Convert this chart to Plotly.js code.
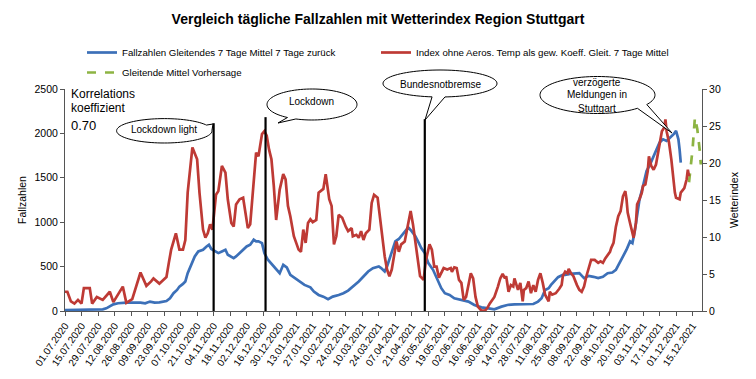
<!DOCTYPE html>
<html><head><meta charset="utf-8">
<script src="https://cdn.plot.ly/plotly-3.0.1.min.js"></script>
<style>html,body{margin:0;padding:0;background:#fff}#chart{width:756px;height:379px}</style>
</head><body><div id="chart"></div>
<script>
// days counted from 01.07.2020
const redDays = [0,2,5,8,11,14,16,21,23,27,
32,38,41,47,49,52,57,64,69,73,
75,80,86,88,90,94,97,100,102,104,
108,112,114,117,119,121,123,125,128,130,
133,136,138,141,143,145,148,151,152,155,
157,160,162,164,167,169,171,173,175,177,
179,182,185,187,189,191,194,196,198,200,
202,204,206,208,210,213,215,219,221,224,
226,228,230,232,235,238,240,243,244,247,
249,251,253,255,258,260,262,265,267,269,
271,273,275,277,279,281,283,285,288,291,
293,295,297,299,301,304,306,309,311,313,
315,317,319,321,324,327,328,330,332,334,
336,338,340,342,344,346,348,350,353,356,
358,360,362,364,367,369,371,373,374,376,
378,380,381,384,386,388,389,391,393,395,
397,399,401,403,405,407,410,411,413,416,
419,421,422,424,426,427,429,431,434,436,
438,440,442,444,446,449,452,454,456,458,
460,462,463,465,466,467,469,471,473,475,
476,477,479,481,482,484,485,487,489,490,
492,494,495,497,499,501,503,504,506,508,
509,510,512,514,516,517,518,521,522,524,
525,527,528,529];
const redIndex = [2.6,2.6,1.3,1.0,1.5,1.0,3.1,3.1,1.0,1.9,
1.5,2.6,1.2,2.85,3.3,1.1,1.6,5.2,3.4,4.0,
4.4,3.7,4.6,6.5,8.3,10.5,8.3,8.3,9.6,16.0,
22.1,20.5,16.0,11.0,9.9,10.5,11.7,11.0,15.7,16.2,
19.6,18.7,15.1,11.9,11.4,14.4,15.1,15.3,14.2,11.2,
11.7,16.9,21.4,20.9,23.9,24.3,23.7,21.8,20.5,16.9,
12.3,16.4,18.5,17.8,14.2,12.8,10.1,9.2,8.3,8.0,
11.0,9.2,11.9,12.4,12.0,12.3,16.0,16.5,18.5,15.1,
14.2,9.0,10.1,13.0,12.6,11.4,10.8,11.2,10.1,10.3,
9.9,10.8,9.6,10.5,11.0,14.6,15.7,15.3,12.8,9.6,
7.4,5.6,4.7,5.6,7.4,9.4,8.0,9.0,9.4,11.9,
13.5,11.7,9.2,6.7,4.7,4.2,6.9,9.0,8.3,6.0,
6.0,4.5,5.1,5.8,5.6,5.8,5.3,5.9,5.8,4.2,
3.8,1.5,1.9,3.8,5.1,4.4,1.9,0.6,0.05,0.05,
0.4,1.0,1.5,1.9,3.3,4.4,5.0,4.4,4.7,2.6,
3.5,3.3,4.4,2.85,3.8,1.3,2.85,3.1,4.0,2.4,
3.5,2.6,4.2,5.1,3.8,2.2,1.3,2.6,2.2,2.4,
3.0,3.5,4.7,5.3,5.1,5.7,5.1,4.7,3.5,2.85,
2.6,3.3,4.7,6.0,6.9,6.9,6.5,6.7,6.5,7.1,
7.6,8.0,8.5,9.2,10.3,11.4,12.8,13.5,15.5,16.2,
15.1,13.3,11.9,10.5,9.9,11.9,14.4,15.1,16.0,16.9,
17.1,18.9,20.9,19.6,19.1,19.8,21.6,23.0,24.3,24.8,
25.9,24.3,22.8,20.5,17.3,16.0,15.3,15.1,16.0,16.4,
16.6,17.8,19.1,18.2];
const blueDays = [0,24,32,35,38,41,45,52,64,68,
72,76,80,86,89,92,95,97,100,102,
104,107,110,113,117,120,122,124,127,130,
133,136,138,143,145,148,151,154,157,160,
162,164,167,169,172,176,179,182,185,188,
191,195,199,203,208,211,215,219,223,227,
232,236,240,244,249,253,257,261,266,268,
271,273,275,278,280,283,285,288,291,294,
297,300,302,305,308,312,316,319,322,326,
330,336,342,347,353,359,364,370,375,381,
387,392,397,401,404,407,410,412,415,418,
422,424,428,432,436,440,444,448,452,456,
460,464,467,470,473,476,479,481,483,485,
487,490,493,496,499,501,504,507,510,513,
516,518,520,521,522];
const blueCases = [11,11,19,30,49,75,87,94,94,87,
106,94,98,113,143,200,237,275,305,332,
426,530,614,671,690,727,746,698,671,652,
671,690,633,596,614,652,690,727,746,803,
784,784,765,652,577,520,471,426,520,490,
407,370,332,294,266,219,181,162,132,162,
181,200,230,275,332,388,445,483,502,483,
445,502,577,690,784,811,841,897,942,897,
841,765,709,652,539,464,350,257,200,181,
143,124,106,68,41,30,19,49,68,75,
79,79,79,106,143,237,257,294,332,381,
407,407,418,426,426,370,396,385,370,385,
426,434,464,539,614,690,784,765,897,1086,
1255,1406,1576,1651,1745,1821,1897,1934,1915,1953,
1991,2028,1934,1821,1670];
const greenDays = [529,532,534,536,538,539];
const greenCases = [1450,1820,2180,2050,1820,1650];
const eventDates = ['2020-11-04','2020-12-18','2021-05-02'];
const eventTops = [2115,2183,2160];
const leftTicks = [0,500,1000,1500,2000,2500];
const rightTicks = [0,5,10,15,20,25,30];

const FONT = "'Liberation Sans Narrow', 'Liberation Sans', Arial, sans-serif";
function dayToDate(d){ return new Date(Date.UTC(2020,6,1) + d*86400000).toISOString().slice(0,10); }

// pixel -> paper helpers (plot area: x 65..702, y 89..311)
const PL=65, PR=702, PT=89, PB=311;
const px = p => (p-PL)/(PR-PL);
const py = p => (PB-p)/(PB-PT);

function calloutPath(cx, cy, rx, ry, a1, a2, tx, ty){
  const pts=[];
  const end = a1 + 360;
  for(let a=a2; a<end; a+=4){ pts.push([cx+rx*Math.cos(a*Math.PI/180), cy+ry*Math.sin(a*Math.PI/180)]); }
  pts.push([cx+rx*Math.cos(a1*Math.PI/180), cy+ry*Math.sin(a1*Math.PI/180)]);
  pts.push([tx,ty]);
  return 'M ' + pts.map(p=>px(p[0]).toFixed(5)+','+py(p[1]).toFixed(5)).join(' L ') + ' Z';
}

const traces = [
  {x: blueDays.map(dayToDate), y: blueCases, type:'scatter', mode:'lines', name:'Fallzahlen Gleitendes 7 Tage Mittel 7 Tage zurück',
   line:{color:'#3C70B8', width:2.7}, yaxis:'y', legend:'legend'},
  {x: redDays.map(dayToDate), y: redIndex, type:'scatter', mode:'lines', name:'Index ohne Aeros. Temp als gew. Koeff. Gleit. 7 Tage Mittel',
   line:{color:'#BE3A35', width:2.7}, yaxis:'y2', legend:'legend2'},
  {x: greenDays.map(dayToDate), y: greenCases, type:'scatter', mode:'lines', name:'Gleitende Mittel Vorhersage',
   line:{color:'#8DB443', width:2.7, dash:'dash'}, yaxis:'y', legend:'legend3'}
];

const shapes = [];
eventDates.forEach((d,i)=>{
  shapes.push({type:'line', xref:'x', yref:'y', x0:d, x1:d, y0:0, y1:eventTops[i], line:{color:'#000', width:2.2}, layer:'above'});
});
const callouts = [
  [164.3,130.8,47.7,12.2,-28,-2,213,124],
  [312,104.5,45,15.5,111,123,278,123],
  [440,83.5,57,13.5,85,98,425,120],
  [597.5,95,57.5,18.5,31,46,672,133]
];
callouts.forEach(c=>{
  shapes.push({type:'path', xref:'paper', yref:'paper', path:calloutPath(...c), fillcolor:'#fff', line:{color:'#000', width:1}, layer:'above'});
});

const ann = (x,y,text,size,anchor) => ({xref:'paper', yref:'paper', x:px(x), y:py(y), text:text, showarrow:false,
  xanchor:anchor||'center', yanchor:'middle', font:{size:size, color:'#000', family:FONT}});
const annotations = [
  ann(164,129.5,'Lockdown light',10),
  ann(311,101,'Lockdown',10),
  ann(441,84.5,'Bundesnotbremse',10),
  ann(597,82,'verzögerte',10),
  ann(597,95,'Meldungen in',10),
  ann(597,108,'Stuttgart',10),
  ann(69,93.5,'Korrelations',12,'left'),
  ann(69,108,'koeffizient',12,'left'),
  ann(69,125,'0.70',13,'left')
];

const axisCommon = {showgrid:false, zeroline:false, showline:true, linecolor:'#555', linewidth:1, ticks:'outside', ticklen:4, tickcolor:'#555', tickfont:{size:10.5, color:'#000', family:FONT}};
const legendCommon = {orientation:'h', xanchor:'left', yanchor:'top', font:{size:9.7, family:FONT, color:'#000'}, bgcolor:'rgba(0,0,0,0)', itemwidth:30};

const layout = {
  width:756, height:379,
  margin:{l:PL, r:756-PR, t:PT, b:379-PB, pad:0},
  paper_bgcolor:'#fff', plot_bgcolor:'#fff',
  font:{family:FONT, color:'#000'},
  title:{text:'<b>Vergleich tägliche Fallzahlen mit Wetterindex Region Stuttgart</b>', font:{size:14, family:FONT, color:'#000'}, x:0.5, xref:'container', y:1-19/379, yref:'container', yanchor:'middle'},
  xaxis: Object.assign({}, axisCommon, {type:'date', range:['2020-07-01','2021-12-23'], tickmode:'linear', tick0:'2020-07-01', dtick:14*86400000, tickformat:'%d.%m.%Y', tickangle:-55, tickfont:{size:10, color:'#000', family:FONT}}),
  yaxis: Object.assign({}, axisCommon, {range:[0,2500], tickmode:'array', tickvals:leftTicks, title:{text:'Fallzahlen', font:{size:10.5, family:FONT}, standoff:5}}),
  yaxis2: Object.assign({}, axisCommon, {range:[0,30], tickmode:'array', tickvals:rightTicks, overlaying:'y', side:'right', title:{text:'Wetterindex', font:{size:10.5, family:FONT}, standoff:10}}),
  showlegend:true,
  legend: Object.assign({}, legendCommon, {x:px(82), y:py(38)}),
  legend2: Object.assign({}, legendCommon, {x:px(376), y:py(38)}),
  legend3: Object.assign({}, legendCommon, {x:px(82), y:py(58)}),
  shapes:shapes,
  annotations:annotations
};

Plotly.newPlot('chart', traces, layout, {staticPlot:true, displayModeBar:false});
</script></body></html>
